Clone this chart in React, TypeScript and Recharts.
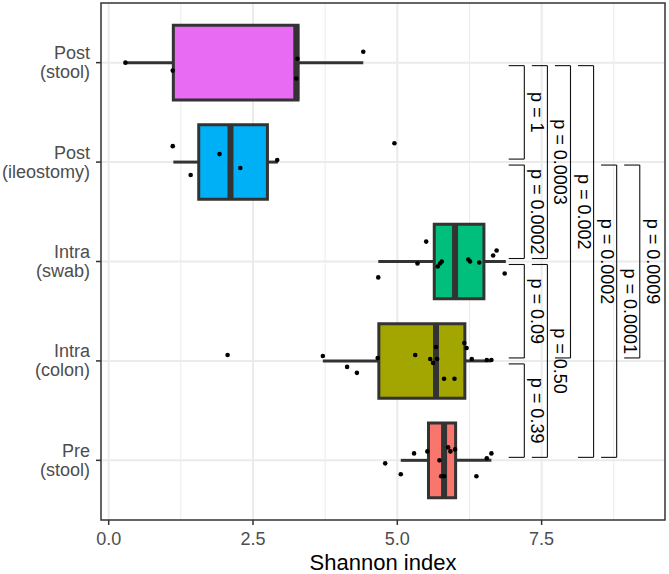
import {
  CartesianGrid,
  ComposedChart,
  ReferenceArea,
  ReferenceLine,
  Scatter,
  XAxis,
  YAxis,
} from "recharts";

// groups, top to bottom
const groupTop = ["Post", "Post", "Intra", "Intra", "Pre"];
const groupBottom = ["(stool)", "(ileostomy)", "(swab)", "(colon)", "(stool)"];
const groupPos = [5, 4, 3, 2, 1];
const groupFill = ["#E76BF3", "#00B0F6", "#00BF7D", "#A3A500", "#F8766D"];

// box stats (Shannon index)
const q1 = [1.12, 1.56, 5.64, 4.68, 5.54];
const median = [3.25, 2.11, 6.0, 5.67, 5.81];
const q3 = [3.28, 2.75, 6.5, 6.17, 6.01];
const whiskerLow = [0.29, 1.12, 4.67, 3.71, 5.06];
const whiskerHigh = [4.41, 2.93, 6.88, 6.62, 6.63];

// jittered samples: value and vertical jitter (category units)
const postStoolX = [0.29, 1.11, 3.27, 3.25, 4.41];
const postStoolJ = [0.0, -0.08, 0.04, -0.16, 0.11];
const ileoX = [1.11, 1.42, 1.92, 2.28, 2.92, 4.95];
const ileoJ = [0.16, -0.13, 0.08, -0.06, 0.02, 0.19];
const swabX = [5.5, 4.67, 5.35, 5.7, 5.74, 5.77, 6.23, 6.26, 6.42, 6.66, 6.72, 6.86];
const swabJ = [0.2, -0.16, -0.02, -0.05, -0.02, 0.0, 0.02, 0.0, -0.01, 0.06, 0.11, -0.12];
const colonX = [2.06, 3.71, 4.13, 4.3, 4.66, 5.31, 5.57, 5.62, 5.67, 5.69, 5.81, 5.99, 6.16, 6.2, 6.29, 6.55, 6.63];
const colonJ = [0.06, 0.05, -0.06, -0.12, 0.03, 0.06, 0.02, -0.02, 0.14, 0.02, -0.18, -0.18, 0.18, 0.13, 0.02, 0.01, 0.01];
const preX = [4.79, 5.06, 5.29, 5.52, 5.73, 5.76, 5.81, 5.88, 5.92, 6.0, 6.37, 6.55, 6.63];
const preJ = [-0.03, -0.14, 0.07, 0.09, 0.0, -0.16, -0.16, 0.13, 0.09, 0.11, -0.16, 0.02, 0.07];

// pairwise comparisons (group indexes), p labels, bracket x position
const compA = [0, 0, 0, 0, 1, 1, 1, 2, 2, 3];
const compB = [1, 2, 3, 4, 2, 4, 3, 3, 4, 4];
const pLabels = ["p = 1", "p = 0.0003", "p = 0.002", "p = 0.0002", "p = 0.0002", "p = 0.0001", "p = 0.0009", "p = 0.09", "p = 0.50", "p = 0.39"];
const bracketX = [7.2, 7.6, 8.0, 8.4, 7.2, 8.8, 9.2, 7.2, 7.6, 7.2];

const xTicks = [0, 2.5, 5, 7.5];
const xMinor = [1.25, 3.75, 6.25, 8.75];
const X_DOMAIN: [number, number] = [-0.133, 9.637];
const Y_DOMAIN: [number, number] = [0.4, 5.6];
const BOX_HALF = 0.375;
const TIP = 0.27;
const GAP = 0.03;
const DARK = "#333333";

const points = [
  [postStoolX, postStoolJ],
  [ileoX, ileoJ],
  [swabX, swabJ],
  [colonX, colonJ],
  [preX, preJ],
].flatMap(([xs, js], g) => xs.map((x, i) => ({ x, y: groupPos[g] + js[i] })));

const brackets = compA.map((a, i) => {
  const top = groupPos[a] - GAP;
  const bottom = groupPos[compB[i]] + GAP;
  return { x: bracketX[i], top, bottom, y: (top + bottom) / 2, label: pLabels[i] };
});

function YTick({ x, y, payload }: any) {
  const idx = groupPos.indexOf(payload.value);
  if (idx < 0) return null;
  return (
    <text x={x} y={y} textAnchor="end" fill="#4D4D4D" fontSize={18}>
      <tspan x={x} dy={-3.5}>{groupTop[idx]}</tspan>
      <tspan x={x} dy={19}>{groupBottom[idx]}</tspan>
    </text>
  );
}

function Dot({ cx, cy }: any) {
  return <circle cx={cx} cy={cy} r={2.3} fill="#000" />;
}

function PLabel({ cx, cy, payload }: any) {
  const tx = cx + 7;
  return (
    <text x={tx} y={cy} textAnchor="middle" fontSize={18} fill="#000" transform={`rotate(90 ${tx} ${cy})`}>
      {payload.label}
    </text>
  );
}

export default function App() {
  return (
    <div style={{ position: "absolute", left: 0, top: 0, fontFamily: "'Liberation Sans', Arial, sans-serif", background: "#fff" }}>
      <ComposedChart width={669} height={574} margin={{ top: 3, right: 4, left: 0, bottom: 0 }}>
        <CartesianGrid horizontal={false} verticalValues={xMinor} stroke="#EBEBEB" strokeWidth={1} />
        <CartesianGrid horizontalValues={groupPos} verticalValues={xTicks} stroke="#EBEBEB" strokeWidth={2} />
        <XAxis
          type="number"
          dataKey="x"
          domain={X_DOMAIN}
          ticks={xTicks}
          interval={0}
          allowDataOverflow
          height={54}
          tickSize={5}
          tickMargin={7}
          axisLine={false}
          tickLine={{ stroke: DARK, strokeWidth: 1.5 }}
          tick={{ fill: "#4D4D4D", fontSize: 18 }}
          tickFormatter={(v: number) => v.toFixed(1)}
          label={{ value: "Shannon index", position: "insideBottom", offset: 4, fill: "#000", fontSize: 22 }}
        />
        <YAxis
          type="number"
          domain={Y_DOMAIN}
          ticks={groupPos}
          interval={0}
          allowDataOverflow
          width={101}
          tickSize={5}
          tickMargin={6}
          axisLine={false}
          tickLine={{ stroke: DARK, strokeWidth: 1.5 }}
          tick={<YTick />}
        />
        <ReferenceArea x1={X_DOMAIN[0]} x2={X_DOMAIN[1]} y1={Y_DOMAIN[0]} y2={Y_DOMAIN[1]} fill="none" fillOpacity={0} stroke={DARK} strokeWidth={1.5} />
        {groupPos.map((p, i) => (
          <ReferenceLine key={`wl${i}`} segment={[{ x: whiskerLow[i], y: p }, { x: q1[i], y: p }]} stroke={DARK} strokeWidth={3} />
        ))}
        {groupPos.map((p, i) => (
          <ReferenceLine key={`wh${i}`} segment={[{ x: q3[i], y: p }, { x: whiskerHigh[i], y: p }]} stroke={DARK} strokeWidth={3} />
        ))}
        {groupPos.map((p, i) => (
          <ReferenceArea
            key={`box${i}`}
            x1={q1[i]}
            x2={q3[i]}
            y1={p - BOX_HALF}
            y2={p + BOX_HALF}
            fill={groupFill[i]}
            fillOpacity={1}
            stroke={DARK}
            strokeWidth={3}
          />
        ))}
        {groupPos.map((p, i) => (
          <ReferenceLine key={`med${i}`} segment={[{ x: median[i], y: p - BOX_HALF }, { x: median[i], y: p + BOX_HALF }]} stroke={DARK} strokeWidth={6} />
        ))}
        {brackets.map((b, i) => (
          <ReferenceLine key={`bt${i}`} segment={[{ x: b.x - TIP, y: b.top }, { x: b.x, y: b.top }]} stroke="#111" strokeWidth={1.1} />
        ))}
        {brackets.map((b, i) => (
          <ReferenceLine key={`bv${i}`} segment={[{ x: b.x, y: b.top }, { x: b.x, y: b.bottom }]} stroke="#111" strokeWidth={1.1} />
        ))}
        {brackets.map((b, i) => (
          <ReferenceLine key={`bb${i}`} segment={[{ x: b.x - TIP, y: b.bottom }, { x: b.x, y: b.bottom }]} stroke="#111" strokeWidth={1.1} />
        ))}
        <Scatter data={points} dataKey="y" shape={<Dot />} isAnimationActive={false} />
        <Scatter data={brackets} dataKey="y" shape={<PLabel />} isAnimationActive={false} />
      </ComposedChart>
    </div>
  );
}
